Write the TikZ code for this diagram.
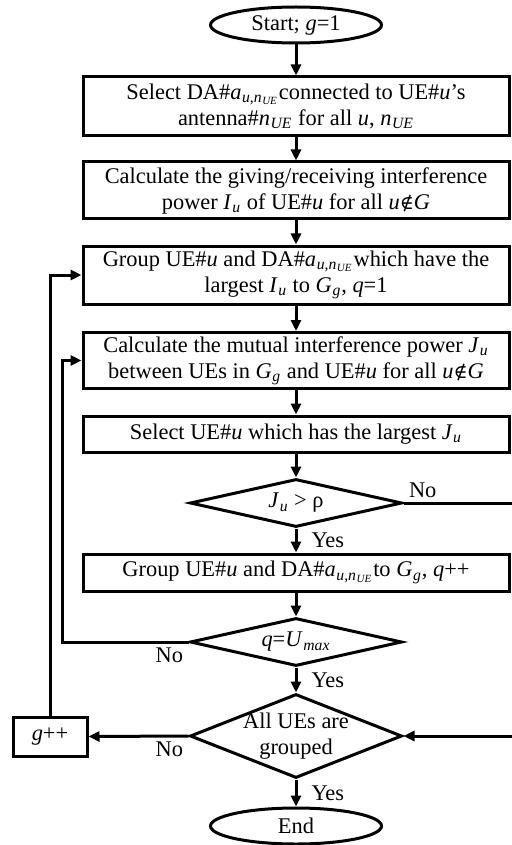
\documentclass[tikz,border=0pt]{standalone}
\usepackage{fontspec}
\setmainfont{Liberation Serif}
\newfontfamily\symfont{DejaVu Serif}
\usetikzlibrary{shapes.geometric,arrows.meta}
\newcommand{\idx}[1]{\kern0.3pt\textsubscript{#1}}
\newcommand{\aun}{\textit{a}\idx{\textit{u},\textit{n}\idx{\textit{UE}}}}
\newcommand{\nin}{{\symfont\fontsize{9.5}{12}\selectfont ∉}}
\begin{document}
\begin{tikzpicture}[x=0.5pt,y=-0.5pt,line width=1.5pt,
  every node/.style={font=\fontsize{11.2}{13}\selectfont},
  proc/.style={draw,rectangle,align=center,minimum width=213pt,inner sep=0pt},
  term/.style={draw,ellipse,minimum width=85.5pt,minimum height=18pt,inner sep=0pt},
  decision/.style={draw,diamond,minimum width=106pt,inner sep=0pt},
  flow/.style={-{Triangle[length=5.5pt,width=5pt]}},
  lbl/.style={inner sep=2pt},
  yes/.style={right,inner sep=0pt,xshift=7pt}]
\useasboundingbox (0,0) rectangle (512,845);
\clip (0,0) rectangle (512,845);
\node[term] (start) at (296,25) {Start; \textit{g}=1};
\node[proc,minimum height=29.5pt] (b1) at (296,106.5) {Select DA\#\aun connected to UE\#\textit{u}’s\\antenna\#\textit{n}\idx{\textit{UE}} for all \textit{u}, \textit{n}\idx{\textit{UE}}};
\node[proc,minimum height=28.5pt] (b2) at (296,190.5) {Calculate the giving/receiving interference\\power \textit{I}\idx{\textit{u}} of UE\#\textit{u} for all \textit{u}\nin\textit{G}};
\node[proc,minimum height=29pt] (b3) at (296,275) {Group UE\#\textit{u} and DA\#\aun which have the\\largest \textit{I}\idx{\textit{u}} to \textit{G}\idx{\textit{g}}, \textit{q}=1};
\node[proc,minimum height=28pt] (b4) at (296,360.5) {Calculate the mutual interference power \textit{J}\idx{\textit{u}}\\between UEs in \textit{G}\idx{\textit{g}} and UE\#\textit{u} for all \textit{u}\nin\textit{G}};
\node[proc,minimum height=18pt] (b5) at (296,434) {Select UE\#\textit{u} which has the largest \textit{J}\idx{\textit{u}}};
\node[decision,minimum height=24pt,label=center:{\textit{J}\idx{\textit{u}} > ρ}] (d1) at (296,503) {};
\node[proc,minimum height=18.5pt] (b6) at (296,572.5) {Group UE\#\textit{u} and DA\#\aun to \textit{G}\idx{\textit{g}}, \textit{q}++};
\node[decision,minimum height=24pt,label=center:{\textit{q}=\textit{U}\idx{\textit{max}}}] (d2) at (296,642) {};
\node[decision,minimum height=42pt,label={[align=center]center:All UEs are\\grouped}] (d3) at (296,736) {};
\node[term] (end) at (296,826) {End};
\node[draw,rectangle,minimum width=37pt,minimum height=19.5pt,inner sep=0pt] (gpp) at (50,736.5) {\textit{g}++};
\coordinate (rt) at (530,0);
\coordinate (lp) at (62,0);
\draw[flow] (start) -- (b1);
\draw[flow] (b1) -- (b2);
\draw[flow] (b2) -- (b3);
\draw[flow] (b3) -- (b4);
\draw[flow] (b4) -- (b5);
\draw[flow] (b5) -- (d1);
\draw[flow] (d1) -- node[yes]{Yes} (b6);
\draw[flow] (b6) -- (d2);
\draw[flow] (d2) -- node[yes]{Yes} (d3);
\draw[flow] (d3) -- node[yes]{Yes} (end);
\draw[flow] (d1.east) node[above right,lbl]{No} -- (d1.east -| rt) -- (d3.east -| rt) -- (d3.east);
\draw[flow] (d2.west) node[below left,lbl]{No} -- (d2.west -| lp) -- (b4.west -| lp) -- (b4.west);
\draw[flow] (d3.west) node[below left,lbl]{No} -- (gpp.east);
\draw[flow] (gpp.north) |- (b3.west);
\end{tikzpicture}
\end{document}
